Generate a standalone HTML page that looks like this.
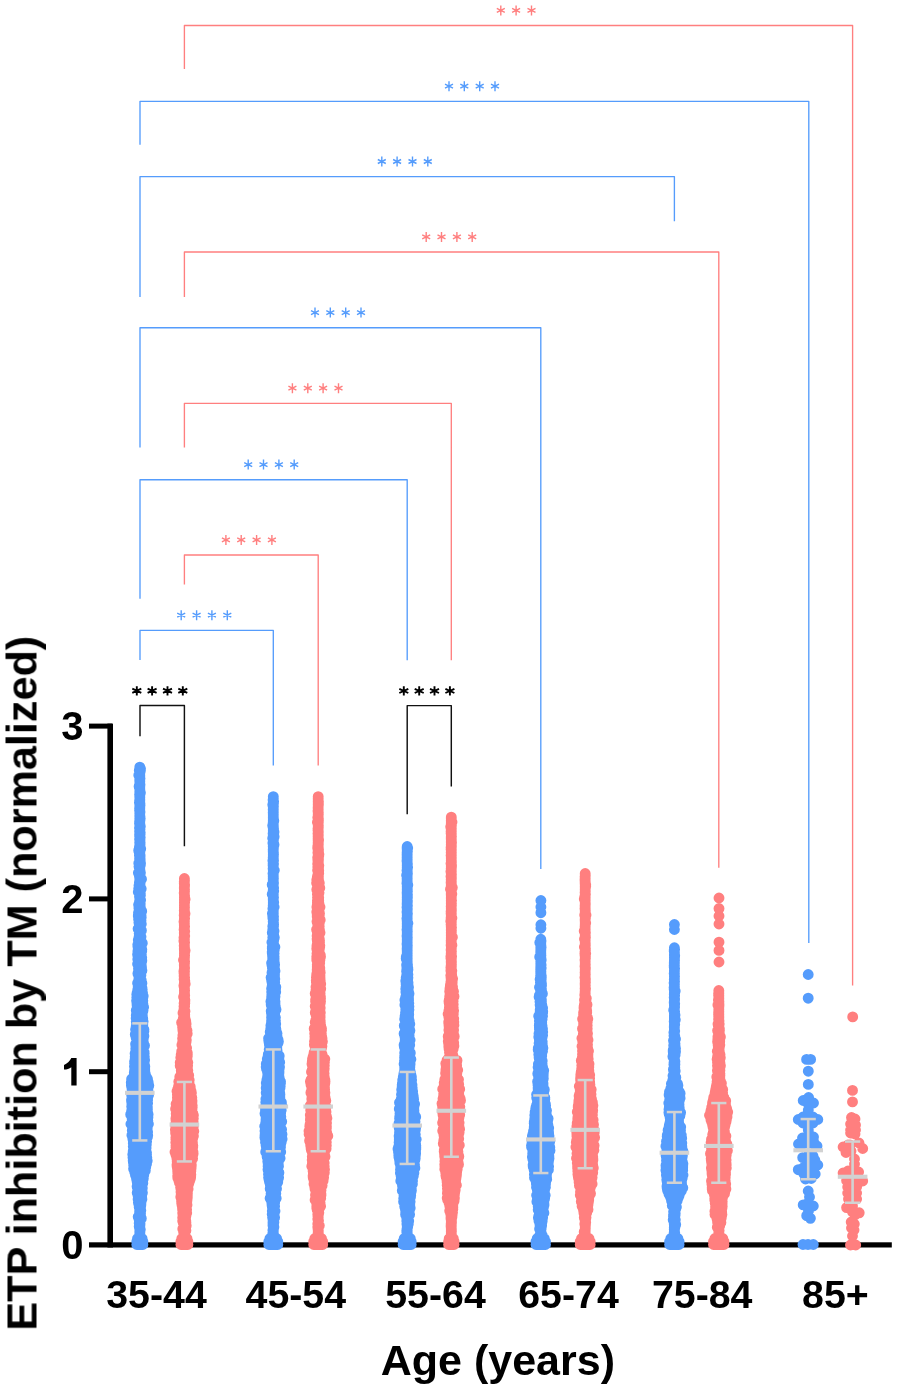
<!DOCTYPE html>
<html><head><meta charset="utf-8"><title>ETP inhibition by TM</title>
<style>html,body{margin:0;padding:0;background:#fff;overflow:hidden;width:897px;height:1389px;}svg{display:block;}</style></head>
<body><svg width="897" height="1389" viewBox="0 0 897 1389" font-family="'Liberation Sans', sans-serif" font-weight="bold">
<rect width="897" height="1389" fill="#fff"/>
<path d="M184.4 69.1V25.5H852.6V985.5" fill="none" stroke="#FF7F7F" stroke-width="1.35" stroke-linejoin="round"/>
<path d="M140 144.7V101.3H808.8V943" fill="none" stroke="#559CFC" stroke-width="1.35" stroke-linejoin="round"/>
<path d="M140 297V176.6H674.4V221.3" fill="none" stroke="#559CFC" stroke-width="1.35" stroke-linejoin="round"/>
<path d="M184.4 297V252H718.8V867.7" fill="none" stroke="#FF7F7F" stroke-width="1.35" stroke-linejoin="round"/>
<path d="M140 447.5V327.7H540.8V869" fill="none" stroke="#559CFC" stroke-width="1.35" stroke-linejoin="round"/>
<path d="M184.4 447.5V403.3H451.3V660.3" fill="none" stroke="#FF7F7F" stroke-width="1.35" stroke-linejoin="round"/>
<path d="M140 598.8V479.7H407.2V660.3" fill="none" stroke="#559CFC" stroke-width="1.35" stroke-linejoin="round"/>
<path d="M184.4 584.5V555H318.2V765.4" fill="none" stroke="#FF7F7F" stroke-width="1.35" stroke-linejoin="round"/>
<path d="M140 660V630.3H273.3V765.4" fill="none" stroke="#559CFC" stroke-width="1.35" stroke-linejoin="round"/>
<path d="M140 736.3V705.5H184.4V846.2" fill="none" stroke="#111" stroke-width="1.45" stroke-linejoin="round"/>
<path d="M407.2 814.2V705.6H451.3V786.4" fill="none" stroke="#111" stroke-width="1.45" stroke-linejoin="round"/>
<path d="M500.8 5.4v10M496.8 8.4l8 4M496.8 12.4l8 -4M516.1 5.4v10M512.1 8.4l8 4M512.1 12.4l8 -4M531.5 5.4v10M527.5 8.4l8 4M527.5 12.4l8 -4M426.2 231.9v10M422.2 234.9l8 4M422.2 238.9l8 -4M441.5 231.9v10M437.5 234.9l8 4M437.5 238.9l8 -4M456.9 231.9v10M452.9 234.9l8 4M452.9 238.9l8 -4M472.2 231.9v10M468.2 234.9l8 4M468.2 238.9l8 -4M292.4 383.2v10M288.4 386.2l8 4M288.4 390.2l8 -4M307.8 383.2v10M303.8 386.2l8 4M303.8 390.2l8 -4M323.1 383.2v10M319.1 386.2l8 4M319.1 390.2l8 -4M338.5 383.2v10M334.5 386.2l8 4M334.5 390.2l8 -4M225.9 534.9v10M221.9 537.9l8 4M221.9 541.9l8 -4M241.2 534.9v10M237.2 537.9l8 4M237.2 541.9l8 -4M256.6 534.9v10M252.6 537.9l8 4M252.6 541.9l8 -4M271.9 534.9v10M267.9 537.9l8 4M267.9 541.9l8 -4" fill="none" stroke="#FF7F7F" stroke-width="1.4"/>
<path d="M449 81.2v10M445 84.2l8 4M445 88.2l8 -4M464.3 81.2v10M460.3 84.2l8 4M460.3 88.2l8 -4M479.7 81.2v10M475.7 84.2l8 4M475.7 88.2l8 -4M495 81.2v10M491 84.2l8 4M491 88.2l8 -4M381.8 156.5v10M377.8 159.5l8 4M377.8 163.5l8 -4M397.1 156.5v10M393.1 159.5l8 4M393.1 163.5l8 -4M412.5 156.5v10M408.5 159.5l8 4M408.5 163.5l8 -4M427.8 156.5v10M423.8 159.5l8 4M423.8 163.5l8 -4M315 307.6v10M311 310.6l8 4M311 314.6l8 -4M330.3 307.6v10M326.3 310.6l8 4M326.3 314.6l8 -4M345.7 307.6v10M341.7 310.6l8 4M341.7 314.6l8 -4M361 307.6v10M357 310.6l8 4M357 314.6l8 -4M248.2 459.6v10M244.2 462.6l8 4M244.2 466.6l8 -4M263.5 459.6v10M259.5 462.6l8 4M259.5 466.6l8 -4M278.9 459.6v10M274.9 462.6l8 4M274.9 466.6l8 -4M294.2 459.6v10M290.2 462.6l8 4M290.2 466.6l8 -4M181.2 610.2v10M177.2 613.2l8 4M177.2 617.2l8 -4M196.6 610.2v10M192.6 613.2l8 4M192.6 617.2l8 -4M211.9 610.2v10M207.9 613.2l8 4M207.9 617.2l8 -4M227.3 610.2v10M223.3 613.2l8 4M223.3 617.2l8 -4" fill="none" stroke="#559CFC" stroke-width="1.4"/>
<path d="M136.8 686.2v9.2M132.3 688.7l9 4.2M132.3 692.9l9 -4.2M152.1 686.2v9.2M147.6 688.7l9 4.2M147.6 692.9l9 -4.2M167.5 686.2v9.2M163 688.7l9 4.2M163 692.9l9 -4.2M182.8 686.2v9.2M178.3 688.7l9 4.2M178.3 692.9l9 -4.2M403.8 686.3v9.2M399.3 688.8l9 4.2M399.3 693l9 -4.2M419.2 686.3v9.2M414.7 688.8l9 4.2M414.7 693l9 -4.2M434.5 686.3v9.2M430 688.8l9 4.2M430 693l9 -4.2M449.9 686.3v9.2M445.4 688.8l9 4.2M445.4 693l9 -4.2" fill="none" stroke="#000" stroke-width="1.9"/>
<g fill="#000">
<rect x="107.4" y="723.6" width="5.6" height="523.9"/>
<rect x="89" y="723.6" width="23" height="5"/>
<rect x="89" y="896.4" width="23" height="5"/>
<rect x="89" y="1069.2" width="23" height="5"/>
<rect x="89" y="1242.3" width="802.8" height="5.2"/>
</g>
<path d="M139.8 767.2h0M139.8 768.8h0.7M139.3 770.4h1.1M139.6 772h0.2M139.7 773.6h0.1M138.8 775.2h1M139.6 776.8h0.2M139.8 778.4h0.2M139.7 780h0.1M139.8 781.6h0M139.8 783.2h0M139.8 784.8h0.2M139.1 786.4h0.7M139.8 788h0M139.8 789.6h0M139.8 791.2h0.2M139.8 792.8h0.6M139.6 794.4h0.2M139.7 796h0.1M139.8 797.6h0M139.8 799.2h0M139.6 800.8h0.2M139.4 802.4h0.4M139.8 804h0.2M139.8 805.6h0.2M139.7 807.2h0.1M139.6 808.8h0.2M139.6 810.4h0.2M139.8 812h0.2M139.8 813.6h0M139.8 815.2h0M139.8 816.8h0.2M139.8 818.4h0.4M139.8 820h0.2M139.6 821.6h0.2M139.5 823.2h0.3M139.7 824.8h0.1M139.8 826.4h0.5M139.5 828h0.3M139.8 829.6h0.2M139.6 831.2h0.2M139.7 832.8h0.5M139.6 834.4h0.5M139.6 836h0.2M139.8 837.6h0.4M139.6 839.2h0.4M139.8 840.8h0.2M139.7 842.4h0.4M139.8 844h0.3M139.8 845.6h0.2M139.4 847.2h0.8M139.6 848.8h1.1M138.7 850.4h1.4M139.6 852h0.3M139.4 853.6h0.4M139.4 855.2h0.7M139.6 856.8h0.5M139.6 858.4h0.5M139.6 860h0.6M139.7 861.6h0.1M138.8 863.2h1.7M139.6 864.8h0.8M139 866.4h0.8M139.5 868h0.3M139.7 869.6h0.1M139.8 871.2h0.3M138.4 872.8h2M139.8 874.4h0.3M139.4 876h0.7M139.6 877.6h0.3M139.8 879.2h1.7M139.7 880.8h0.1M139.4 882.4h0.8M139.6 884h0.4M139 885.6h1.1M139.3 887.2h0.5M138.7 888.8h2.5M139.7 890.4h0.8M138.3 892h1.9M139.5 893.6h0.8M139.6 895.2h0.8M139.5 896.8h0.3M139.8 898.4h0.2M139.8 900h0.8M139.5 901.6h0.6M139.5 903.2h0.7M138.6 904.8h1.6M139.1 906.4h1.1M138.9 908h1.6M139.2 909.6h1.3M139 911.2h2.7M138.5 912.8h2.7M138.4 914.4h2.4M138.3 916h2.8M139.2 917.6h2M138.6 919.2h1.8M138.9 920.8h2.1M138.9 922.4h1.9M139.3 924h2M139.4 925.6h1.1M139 927.2h1.4M138.1 928.8h2.3M139.1 930.4h2.3M139.7 932h0.8M139.2 933.6h1M139.4 935.2h1M139.1 936.8h1.9M138.8 938.4h1.8M138.3 940h2.6M138.5 941.6h2.4M138.5 943.2h3.8M137.8 944.8h3.1M137.9 946.4h3.4M138.5 948h2.7M138.5 949.6h3.3M137.9 951.2h3.8M138.4 952.8h2.9M137.6 954.4h3.7M138.5 956h2.7M138.6 957.6h3.1M137.8 959.2h3.9M138.3 960.8h3.5M138.3 962.4h2.9M137.6 964h3.6M138.5 965.6h2.8M138.6 967.2h2.9M138.5 968.8h2.9M138.6 970.4h3.3M138.7 972h1.8M137.9 973.6h2.6M139.4 975.2h1.5M138.9 976.8h1.7M139.2 978.4h1.3M138.7 980h2.5M138.6 981.6h2.1M137.6 983.2h4.3M138.2 984.8h3.4M138.2 986.4h3.2M138.3 988h3.7M137.8 989.6h4.4M137.8 991.2h4M137.1 992.8h5.4M136.8 994.4h5.9M137.1 996h6.1M136.8 997.6h6.1M137.4 999.2h5.2M136.6 1000.8h6.2M136.9 1002.4h5.4M137 1004h5.9M137.1 1005.6h5.8M137.2 1007.2h6.4M137 1008.8h5.7M136.3 1010.4h6.7M136.8 1012h5.5M136.8 1013.6h5.5M136.3 1015.2h6M137 1016.8h5.2M136.2 1018.4h6.5M136.6 1020h6.1M136.3 1021.6h6.8M136.9 1023.2h5.9M136.5 1024.8h6.3M136.2 1026.4h6.6M136.5 1028h6.5M135.6 1029.6h8.3M136 1031.2h7.9M136.5 1032.8h7M135.3 1034.4h7.8M136.7 1036h7.2M136.1 1037.6h7.4M136.7 1039.2h6.5M137 1040.8h5.9M136.8 1042.4h6.6M135.6 1044h7.8M135.8 1045.6h8.7M136 1047.2h7.2M135.8 1048.8h7.5M136.2 1050.4h6.8M135.6 1052h8.5M135.1 1053.6h9.1M135.8 1055.2h8M135.2 1056.8h9.1M135.2 1058.4h9.1M135.5 1060h9.1M134.6 1061.6h9.6M134.6 1063.2h9.6M134.8 1064.8h9.5M134.5 1066.4h10.3M135.3 1068h9.4M134.7 1069.6h10M134.5 1071.2h10.3M134.3 1072.8h10.6M134.5 1074.4h10.9M134 1076h11.7M133 1077.6h13.7M131.6 1079.2h15.9M132.2 1080.8h15.3M131.3 1082.4h16.9M131.4 1084h16.2M131.4 1085.6h17.4M132 1087.2h15.5M132 1088.8h15.9M132.2 1090.4h15.7M132 1092h16.1M132.2 1093.6h16.4M131.7 1095.2h16.8M131.9 1096.8h15.7M132 1098.4h15.6M131.5 1100h16.1M131.6 1101.6h15.7M131.9 1103.2h15.7M131.9 1104.8h15.4M131.7 1106.4h15.6M132 1108h15.4M131.9 1109.6h15.5M131.6 1111.2h15.8M131.5 1112.8h16.2M130.7 1114.4h17.4M131.6 1116h16.3M132 1117.6h15.9M132.2 1119.2h15.4M132.4 1120.8h15.4M132.5 1122.4h15.3M130.9 1124h17.5M132.1 1125.6h15.3M132.4 1127.2h14.9M132.9 1128.8h14.3M132.3 1130.4h14.7M132.7 1132h14.9M133.2 1133.6h13.6M131.9 1135.2h15.8M133.1 1136.8h14.4M132.8 1138.4h13.9M133.1 1140h12.9M133.5 1141.6h13.1M133.3 1143.2h12.3M133.5 1144.8h12.8M133.3 1146.4h12.6M133.8 1148h12.3M133.8 1149.6h12M133.2 1151.2h12.8M133.6 1152.8h12.9M132.8 1154.4h13.7M133.5 1156h13M133 1157.6h13.8M133.5 1159.2h12.7M133.2 1160.8h14M133.4 1162.4h12.7M133.8 1164h12.7M133.7 1165.6h12.1M134.3 1167.2h11.4M133.6 1168.8h11.5M134.6 1170.4h10.7M134.7 1172h9.8M135.6 1173.6h8.3M135.5 1175.2h8.2M136.7 1176.8h6.7M136.5 1178.4h6.8M137.1 1180h5.1M137.1 1181.6h5M137.6 1183.2h5.2M137.6 1184.8h4.7M137.1 1186.4h4.9M138 1188h4.3M138.1 1189.6h4M137.6 1191.2h3.9M137.2 1192.8h5.2M137.9 1194.4h3.8M138.1 1196h3.5M138.5 1197.6h3.2M138.1 1199.2h3.8M138.4 1200.8h2.9M138.4 1202.4h2.2M138.8 1204h2.1M139.1 1205.6h1.7M139.2 1207.2h1.3M139.6 1208.8h0.3M139.7 1210.4h1.1M139.6 1212h0.2M139.6 1213.6h0.9M139.8 1215.2h0.7M138.2 1216.8h1.9M139.8 1218.4h1.5M139.2 1220h0.6M139.7 1221.6h0.3M139.2 1223.2h0.8M139.7 1224.8h0.3M139.2 1226.4h0.6M139.8 1228h0M139.8 1229.6h0.5M139.8 1231.2h0.1M139.8 1232.8h0.1M139.7 1234.4h0.1M139.8 1236h0M137.5 1238.5h4.6M136.8 1241.5h6.1M136.8 1244.5h6.1" fill="none" stroke="#559CFC" stroke-width="10.9" stroke-linecap="round"/>
<path d="M184.4 878.5h0M184.4 880.1h0.1M184.3 881.7h0.1M184.3 883.3h0.1M184.4 884.9h0.2M184.4 886.5h0.1M184.3 888.1h0.1M184.4 889.7h0.1M184.4 891.3h0.1M184.2 892.9h0.2M184.4 894.5h0M184.4 896.1h0.2M184.4 897.7h0.1M184.4 899.3h0.7M184.4 900.9h0.1M184.4 902.5h0.2M184.4 904.1h0M184.4 905.7h0M184.4 907.3h0.1M184.4 908.9h0M184.3 910.5h0.1M184.4 912.1h0.1M184.4 913.7h0.6M184.2 915.3h0.2M184.4 916.9h0M184.4 918.5h0.2M184.3 920.1h0.1M184 921.7h0.4M184.4 923.3h0M184.3 924.9h0.1M184.4 926.5h0.2M184.3 928.1h0.1M184.1 929.7h0.3M184.4 931.3h0.3M184.3 932.9h0.1M184.4 934.5h0M184.4 936.1h0.3M184 937.7h0.4M184.1 939.3h0.3M183.9 940.9h0.5M184.4 942.5h0.2M184.4 944.1h0M184.2 945.7h0.2M184.4 947.3h0.1M184.3 948.9h0.1M184.4 950.5h0.7M184.4 952.1h0.1M184.4 953.7h0.1M184.4 955.3h0.2M184.4 956.9h0.1M184.1 958.5h0.3M183.5 960.1h0.9M184.4 961.7h0.2M184.4 963.3h0.1M184.3 964.9h0.1M184.4 966.5h0M184.4 968.1h0.2M184.2 969.7h0.2M183.9 971.3h0.6M184 972.9h0.4M184.2 974.5h0.2M184.1 976.1h0.3M184.3 977.7h0.3M184.1 979.3h0.3M184.4 980.9h0.4M184.4 982.5h0.5M184.3 984.1h0.9M183.9 985.7h0.5M184.2 987.3h0.2M184.4 988.9h0.1M184.4 990.5h0.2M184.4 992.1h0.1M184.4 993.7h0.1M184.4 995.3h0.3M183.6 996.9h0.9M184.4 998.5h0.2M184.4 1000.1h0.5M184.4 1001.7h0.4M184.1 1003.3h0.7M184.4 1004.9h0.2M184 1006.5h0.6M184.2 1008.1h0.2M183.9 1009.7h0.5M184.4 1011.3h0.6M183 1012.9h1.6M184 1014.5h0.7M184.2 1016.1h0.5M183.5 1017.7h1.3M183.2 1019.3h1.9M182.8 1020.9h2.9M181.6 1022.5h4.3M182.3 1024.1h3.8M182.6 1025.7h3.2M182.6 1027.3h3.5M182.8 1028.9h2.8M182.9 1030.5h4.1M183.2 1032.1h2.7M183.3 1033.7h3.9M182.9 1035.3h2.8M183 1036.9h3.1M182.6 1038.5h2.8M183.3 1040.1h3M182.7 1041.7h3.4M183.5 1043.3h2.1M181.9 1044.9h3.8M182.6 1046.5h3.2M183 1048.1h3.6M182.8 1049.7h3.5M181.7 1051.3h4.5M181.8 1052.9h5.5M181.2 1054.5h6.1M181.9 1056.1h5.4M180.8 1057.7h6M181.8 1059.3h5.2M181.8 1060.9h5.3M180.2 1062.5h7.6M181 1064.1h6.4M180.2 1065.7h7.4M181.5 1067.3h5.9M181.7 1068.9h5.4M181.3 1070.5h6.5M181.4 1072.1h5.9M181.5 1073.7h6M180.9 1075.3h7.8M179.8 1076.9h7.8M180.7 1078.5h7.4M179.6 1080.1h9.6M178.8 1081.7h10M179.4 1083.3h9.7M179 1084.9h10.4M178.5 1086.5h11.7M178.5 1088.1h11.8M177.6 1089.7h13M177 1091.3h14.1M177.8 1092.9h13.6M177.4 1094.5h13.6M177.5 1096.1h13.6M177.4 1097.7h14.4M177.6 1099.3h14M177.3 1100.9h14.7M177.4 1102.5h14.5M176.1 1104.1h15.8M176.7 1105.7h15.5M176.7 1107.3h15.5M175.6 1108.9h16.4M176.7 1110.5h14.9M176.9 1112.1h15M176.2 1113.7h16.7M176.6 1115.3h16.8M176.2 1116.9h16M175.9 1118.5h17.4M176 1120.1h16.4M176.3 1121.7h16.8M175.9 1123.3h16.7M175.5 1124.9h17.3M175.9 1126.5h17.4M176 1128.1h16.7M175.4 1129.7h17.9M175.6 1131.3h18.2M175.6 1132.9h17.2M176.2 1134.5h16.2M176.1 1136.1h17.3M175.9 1137.7h16.9M175.9 1139.3h16.3M176.4 1140.9h15.9M175.8 1142.5h16.6M176.2 1144.1h16.3M176 1145.7h16.8M176 1147.3h16.7M176.3 1148.9h16.1M176.1 1150.5h16.5M175 1152.1h18M175.7 1153.7h17.4M176.1 1155.3h16.6M176.8 1156.9h15.5M176.9 1158.5h15.7M177.6 1160.1h13.8M177.2 1161.7h14.1M178.1 1163.3h12.9M177 1164.9h14.3M177.1 1166.5h14.1M178 1168.1h13.1M177.6 1169.7h13.3M177.7 1171.3h13.1M177.8 1172.9h12.6M178.5 1174.5h12.3M177.7 1176.1h13M177.8 1177.7h12.8M178.4 1179.3h11.8M179 1180.9h10.6M179.4 1182.5h9.6M180.5 1184.1h8.1M181 1185.7h7M180.6 1187.3h6.9M180.9 1188.9h7.2M181.4 1190.5h6.2M181 1192.1h6.4M181.6 1193.7h5.8M181.1 1195.3h6.2M180.8 1196.9h6.5M181.3 1198.5h5.9M181.6 1200.1h5.4M181.6 1201.7h5.2M181.7 1203.3h4.7M182 1204.9h5M182.4 1206.5h3.8M182.5 1208.1h3.5M182.6 1209.7h4M183.2 1211.3h3.1M182.7 1212.9h4M182.9 1214.5h2.7M183 1216.1h2.9M182.7 1217.7h2.9M183.5 1219.3h1.7M182.7 1220.9h3.1M183.2 1222.5h2.7M183.8 1224.1h1.3M183.9 1225.7h2.3M184 1227.3h0.9M182.8 1228.9h2.4M184.3 1230.5h1.6M183.6 1232.1h0.8M184 1233.7h0.5M184.3 1235.3h0.7M181.8 1238.5h5.2M180.9 1241.5h7M180.9 1244.5h7" fill="none" stroke="#FF7F7F" stroke-width="10.9" stroke-linecap="round"/>
<path d="M273.3 796.7h0M273.3 798.3h0M273.1 799.9h0.2M273.3 801.5h0.3M273.3 803.1h0.2M272.8 804.7h0.5M273.3 806.3h0.1M273.3 807.9h0M273.2 809.5h0.1M273.3 811.1h0M273.2 812.7h0.1M273.3 814.3h0M273.3 815.9h0M273.3 817.5h0M273.3 819.1h0M273.3 820.7h0.5M273.2 822.3h0.1M273.1 823.9h0.2M272.7 825.5h0.6M273.3 827.1h0.1M273.3 828.7h0.2M273.3 830.3h0.3M273.3 831.9h0.7M273.1 833.5h0.2M273.2 835.1h0.1M273.3 836.7h0.8M272.7 838.3h0.6M273.3 839.9h0.1M273.3 841.5h0M272.9 843.1h0.4M273.3 844.7h0.7M273.2 846.3h0.2M273.3 847.9h0.1M273.2 849.5h0.1M273.2 851.1h0.1M273.3 852.7h0.1M273.3 854.3h0.2M273.3 855.9h0.1M273.2 857.5h0.1M273.3 859.1h0.1M272.9 860.7h0.6M273.3 862.3h0M273.1 863.9h0.4M273.1 865.5h0.2M273.3 867.1h0M273.1 868.7h0.2M273.3 870.3h1M273.3 871.9h0.2M273 873.5h0.3M273.2 875.1h0.1M273.2 876.7h0.1M273.2 878.3h0.2M273.2 879.9h0.1M273.3 881.5h0M273.3 883.1h0.2M272.2 884.7h1.1M273.3 886.3h0M273.3 887.9h0.3M273.3 889.5h0M273.3 891.1h0.4M272.8 892.7h0.5M272.2 894.3h1.1M273.3 895.9h0M273.3 897.5h0.2M273.2 899.1h0.1M273.3 900.7h0M273.3 902.3h0.4M273.3 903.9h0.1M273.2 905.5h0.1M273.3 907.1h0.8M272.9 908.7h0.4M273.3 910.3h0M273.1 911.9h0.2M272.4 913.5h0.9M273.3 915.1h0M272.8 916.7h0.7M272.9 918.3h0.5M273.3 919.9h0.2M273.2 921.5h0.1M273.3 923.1h0.2M273.3 924.7h0.3M272.8 926.3h0.7M273 927.9h0.3M272.8 929.5h0.8M273.3 931.1h0.7M272.3 932.7h1.2M273.3 934.3h0.3M273.1 935.9h0.2M272.8 937.5h1.5M272.9 939.1h0.7M273.3 940.7h0.3M271.9 942.3h1.4M272.6 943.9h1M273 945.5h0.9M272.3 947.1h2.6M272.3 948.7h1.7M272.7 950.3h1.5M272.2 951.9h1.6M272.3 953.5h1.8M272.5 955.1h1.2M272.6 956.7h1.5M272.7 958.3h1.4M272.8 959.9h1.3M272.3 961.5h1.6M271.6 963.1h2.8M271.9 964.7h2.7M272.7 966.3h1.7M272.4 967.9h1.8M272.7 969.5h2M272.5 971.1h2.5M272 972.7h2.2M272.1 974.3h2.4M272 975.9h2.5M271.1 977.5h3.2M272.4 979.1h2.4M271.7 980.7h2.6M272 982.3h2.7M272.5 983.9h1.6M272.2 985.5h2.4M272.1 987.1h3.7M271.6 988.7h4M272.1 990.3h3.1M271.7 991.9h4M271.9 993.5h2.8M271.8 995.1h3.1M271.7 996.7h3.3M271.6 998.3h3.1M271.8 999.9h2.6M270.9 1001.5h4.1M271.3 1003.1h3.7M271.2 1004.7h3.2M271.7 1006.3h3.6M272 1007.9h3.1M272 1009.5h4M271.2 1011.1h3.8M271.4 1012.7h3.4M272 1014.3h2.6M271.7 1015.9h2.9M271.6 1017.5h3.8M271.7 1019.1h3.2M271.6 1020.7h3.8M271.5 1022.3h3.6M271.5 1023.9h4.2M270.9 1025.5h4.4M271 1027.1h4.3M270.8 1028.7h5M271.1 1030.3h4.6M270.2 1031.9h6.2M270.5 1033.5h6.5M270.4 1035.1h5.9M270.1 1036.7h7M268.6 1038.3h8.7M268.7 1039.9h9.4M268.9 1041.5h9.5M269.2 1043.1h8.8M269.4 1044.7h7.6M269.9 1046.3h6.9M270.1 1047.9h6.7M269.2 1049.5h7.7M270.2 1051.1h6.9M269.7 1052.7h7.3M268.3 1054.3h9.3M268.5 1055.9h10.7M267.8 1057.5h11.1M267.3 1059.1h11.6M267.6 1060.7h11.4M267.5 1062.3h12.2M266.3 1063.9h12.8M267.4 1065.5h11.7M266.2 1067.1h13.3M266.5 1068.7h12.7M267.8 1070.3h10.7M267.5 1071.9h11.5M268.1 1073.5h10.8M267.8 1075.1h10.9M267.6 1076.7h11.4M267.6 1078.3h11.5M266.9 1079.9h12.8M266.7 1081.5h13.8M266.3 1083.1h14.2M266.8 1084.7h13.2M266.5 1086.3h13.7M266.2 1087.9h13.8M267.5 1089.5h11.6M266.9 1091.1h12.5M266.2 1092.7h13.5M267 1094.3h12.9M266.7 1095.9h13.1M266.9 1097.5h12.9M265.9 1099.1h13.7M266.2 1100.7h13.9M265.8 1102.3h15.6M266.2 1103.9h14.8M265.8 1105.5h16M265.4 1107.1h15.4M265.5 1108.7h15.3M265.5 1110.3h15.7M266.1 1111.9h14.4M265 1113.5h15.6M265.8 1115.1h14.2M266.1 1116.7h14.7M266.1 1118.3h14.4M266 1119.9h14.7M266.1 1121.5h15.6M265.7 1123.1h14.6M266.3 1124.7h14M264.7 1126.3h15.7M265.4 1127.9h15.1M265.5 1129.5h16.1M265 1131.1h16.2M265.6 1132.7h15.7M265.1 1134.3h16.9M265 1135.9h16.2M264.9 1137.5h16.9M265.6 1139.1h16.5M265.6 1140.7h15.5M265.5 1142.3h15.7M266.4 1143.9h14.3M266.1 1145.5h14.2M266.5 1147.1h14M266.5 1148.7h13.5M267.1 1150.3h12.9M265.7 1151.9h15M266.7 1153.5h13.1M267.1 1155.1h12.1M267.1 1156.7h12.4M268 1158.3h12.1M267.9 1159.9h10.7M267.8 1161.5h10.4M268.5 1163.1h9.7M268.2 1164.7h10.1M268.1 1166.3h10.4M268.3 1167.9h9.5M268 1169.5h9.6M269.2 1171.1h8.8M268.7 1172.7h10.2M268.5 1174.3h9.6M269.1 1175.9h8.8M268.6 1177.5h10M268.9 1179.1h8.3M269.3 1180.7h8.5M269.6 1182.3h8.1M270.9 1183.9h5.1M270.4 1185.5h4.8M271.5 1187.1h3.8M270.2 1188.7h6.3M271 1190.3h4.2M271.4 1191.9h3.9M271.1 1193.5h4.7M271.2 1195.1h4.3M270.8 1196.7h4.4M270.1 1198.3h6.1M271.8 1199.9h3M271.6 1201.5h3M272.1 1203.1h2.5M272 1204.7h2.2M272.2 1206.3h2.4M272.5 1207.9h1.4M272.9 1209.5h1.3M272.3 1211.1h2.7M272.7 1212.7h1.4M272.2 1214.3h1.9M273.1 1215.9h0.6M272.6 1217.5h2M273.3 1219.1h0.4M273.1 1220.7h0.2M273 1222.3h0.9M273 1223.9h0.6M273 1225.5h0.5M273.3 1227.1h0.6M273.3 1228.7h0.2M272.9 1230.3h0.4M273.1 1231.9h0.2M272.8 1233.5h0.6M272.9 1235.1h0.4M269.9 1238.5h6.7M268.8 1241.5h9M268.8 1244.5h9" fill="none" stroke="#559CFC" stroke-width="10.9" stroke-linecap="round"/>
<path d="M318.2 796.7h0M318.2 798.3h0M318.2 799.9h0M318.2 801.5h0.2M318.2 803.1h0.2M318.2 804.7h0.2M318.2 806.3h0M318.1 807.9h0.1M318.2 809.5h0M318 811.1h0.2M318.2 812.7h0.1M318.2 814.3h0.1M318.2 815.9h0M317.8 817.5h0.4M318.2 819.1h0.2M318.2 820.7h0.2M317.4 822.3h0.9M318.1 823.9h0.1M318.2 825.5h0.1M318.2 827.1h0.1M318 828.7h0.2M318 830.3h0.2M318.2 831.9h0.1M318 833.5h0.2M318.1 835.1h0.2M318.1 836.7h0.1M318.1 838.3h0.2M318.1 839.9h0.5M318.2 841.5h0.2M318.1 843.1h0.2M318.2 844.7h0.1M317.8 846.3h0.4M317.7 847.9h0.6M318 849.5h0.5M318.1 851.1h0.4M317.9 852.7h0.6M318.2 854.3h0.7M318.2 855.9h0.5M317.7 857.5h0.5M317.8 859.1h0.7M317.9 860.7h0.5M318 862.3h0.3M317.7 863.9h0.6M318.2 865.5h0.6M317.8 867.1h0.8M318 868.7h0.5M317.6 870.3h1.1M318.1 871.9h0.5M318.1 873.5h0.6M318.1 875.1h0.1M317.4 876.7h1M318.2 878.3h0.2M316.8 879.9h1.6M316.9 881.5h2M316.6 883.1h2.7M317.9 884.7h0.8M317.5 886.3h1.5M317.7 887.9h2.1M316.8 889.5h1.5M317.5 891.1h1.1M317.6 892.7h1.4M317.4 894.3h1.2M318 895.9h0.4M317.5 897.5h1.2M317.9 899.1h0.7M317.4 900.7h1.3M317.4 902.3h1.2M317.4 903.9h1.6M317.2 905.5h1.8M316.9 907.1h3.1M317.4 908.7h1.3M317.4 910.3h1.3M316.8 911.9h2.4M317.5 913.5h2M317.2 915.1h2.1M317.2 916.7h2M317.8 918.3h1.1M317.7 919.9h2.5M317 921.5h1.9M317.5 923.1h1.8M317.8 924.7h1.2M317.8 926.3h1.4M317.8 927.9h1.3M316.6 929.5h2.8M317.2 931.1h1.6M317.4 932.7h2.6M317.6 934.3h1.6M317.1 935.9h1.6M317.7 937.5h1.3M317.1 939.1h2.2M317.3 940.7h2.2M317.6 942.3h1.9M317.3 943.9h2.1M317 945.5h2.8M316.9 947.1h2.8M316.8 948.7h2.6M317.1 950.3h1.9M317.6 951.9h1.3M317 953.5h2.6M317.1 955.1h3.2M316.8 956.7h3.7M316.8 958.3h2.6M316.8 959.9h3.1M317.3 961.5h1.6M317.5 963.1h2.2M317.3 964.7h1.8M317.3 966.3h2.2M317.3 967.9h2.5M317.2 969.5h2.1M317.2 971.1h2.8M317.2 972.7h3M316.7 974.3h2.9M316.6 975.9h3.4M316.4 977.5h3.6M317.1 979.1h3M316.3 980.7h3.9M316.4 982.3h3.2M316.7 983.9h4M316.4 985.5h3.8M316 987.1h3.7M316.5 988.7h4.2M316 990.3h4.2M316 991.9h4M315.2 993.5h4.9M316.3 995.1h3.4M316.2 996.7h4.2M316 998.3h4.5M315.6 999.9h4.8M315.6 1001.5h4.9M316.4 1003.1h3.9M316.1 1004.7h3.8M315.2 1006.3h4.7M316.1 1007.9h4.1M316.1 1009.5h3.7M315.7 1011.1h4.1M315.3 1012.7h5M316 1014.3h3.8M316.3 1015.9h3.8M316.6 1017.5h3.5M316.5 1019.1h3.5M315.7 1020.7h4.5M315.2 1022.3h5.1M315.6 1023.9h4.7M316 1025.5h4.7M315.4 1027.1h5.1M314.2 1028.7h7.3M315 1030.3h6.5M315.2 1031.9h5.8M314.7 1033.5h6.6M315.1 1035.1h6.2M314.9 1036.7h6.8M315 1038.3h7M314.9 1039.9h6.6M314.5 1041.5h7.9M315.1 1043.1h6.3M314.4 1044.7h6.9M315.1 1046.3h6.8M315.3 1047.9h6.2M315.9 1049.5h5M315.7 1051.1h5.1M314.1 1052.7h7.3M314.6 1054.3h7.4M313.4 1055.9h9.1M312.9 1057.5h10.2M312.5 1059.1h12.3M312.4 1060.7h11.6M312.2 1062.3h12.2M312 1063.9h12.1M312.4 1065.5h11.9M312.7 1067.1h11M312.7 1068.7h11.5M312.1 1070.3h11.9M311.5 1071.9h12.3M312.4 1073.5h11.7M313.1 1075.1h10.1M312.7 1076.7h11.5M312.3 1078.3h12M311 1079.9h13.9M310.4 1081.5h14.6M311 1083.1h13.9M311 1084.7h13.6M311.6 1086.3h12.8M312.2 1087.9h12.3M311.7 1089.5h12.9M312.3 1091.1h11.9M310.9 1092.7h14M312.2 1094.3h12.5M312 1095.9h12.7M312 1097.5h13.1M311.8 1099.1h13M312.1 1100.7h13.7M311.9 1102.3h12.6M311.6 1103.9h13.4M310.3 1105.5h14.7M311 1107.1h15.1M310.9 1108.7h14.1M310.7 1110.3h14.7M311.1 1111.9h14.9M310.9 1113.5h14.6M310.3 1115.1h15.3M310.7 1116.7h15.8M310.5 1118.3h16.4M310.4 1119.9h15.8M310.7 1121.5h14.9M310.7 1123.1h15.8M310 1124.7h16.2M309.8 1126.3h16.6M310.4 1127.9h16M309.7 1129.5h16.3M309 1131.1h17.2M309.3 1132.7h17.4M309.1 1134.3h17.7M310.3 1135.9h17.5M310.3 1137.5h16.2M310.2 1139.1h15.9M309.6 1140.7h16.2M310.2 1142.3h16.1M310.6 1143.9h15M310.7 1145.5h15.6M311.1 1147.1h14M311.1 1148.7h15M311.4 1150.3h13.6M312.3 1151.9h12.3M312.5 1153.5h11.3M312.6 1155.1h11.3M312.3 1156.7h12.7M312.7 1158.3h11.4M312.2 1159.9h11.5M312.8 1161.5h10.7M312.4 1163.1h11.8M312.9 1164.7h11M311.8 1166.3h12.4M313.1 1167.9h10.8M313.2 1169.5h11.3M313.1 1171.1h10.4M313.4 1172.7h10.9M313.3 1174.3h9.8M313.1 1175.9h10.4M313.2 1177.5h10.4M313.7 1179.1h9.4M314.1 1180.7h9M314.4 1182.3h7.4M314 1183.9h7.2M314.7 1185.5h7.4M314.8 1187.1h5.7M315 1188.7h5.8M316 1190.3h5M315.9 1191.9h4.6M316.1 1193.5h4.8M315.5 1195.1h5.5M316.1 1196.7h4.5M316.4 1198.3h4.3M315.1 1199.9h4.9M316.4 1201.5h3.4M316.6 1203.1h3.5M316.9 1204.7h3.2M316.8 1206.3h3.8M316.8 1207.9h2.3M317.1 1209.5h1.8M317.8 1211.1h0.6M318.1 1212.7h0.7M317.8 1214.3h0.7M317.9 1215.9h0.3M318.1 1217.5h0.1M317.8 1219.1h0.4M318.2 1220.7h0.3M318.2 1222.3h0.1M317.8 1223.9h0.4M318.2 1225.5h1.1M317.8 1227.1h0.4M318 1228.7h0.2M318.2 1230.3h0.1M318.2 1231.9h0.1M318.1 1233.5h0.2M318.2 1235.1h0.2M314.8 1238.5h6.7M313.7 1241.5h9M313.7 1244.5h9" fill="none" stroke="#FF7F7F" stroke-width="10.9" stroke-linecap="round"/>
<path d="M407.2 846.5h0M407.1 848.1h0.6M407.2 849.7h0M407.2 851.3h0.2M407.1 852.9h0.1M407.1 854.5h0.1M407.1 856.1h0.1M407.1 857.7h0.1M407.1 859.3h0.1M407 860.9h0.2M407.2 862.5h0M407.2 864.1h0.2M407.2 865.7h0M407.2 867.3h0.4M407.2 868.9h0.1M407 870.5h0.2M407.2 872.1h0.1M407.2 873.7h0.2M406.6 875.3h0.6M407.2 876.9h0M407.1 878.5h0.1M407.1 880.1h0.1M407.1 881.7h0.1M406.9 883.3h0.3M407.2 884.9h0.6M407.2 886.5h0.2M407.2 888.1h0.1M407.2 889.7h0.1M407.2 891.3h0.2M407.1 892.9h0.1M407.2 894.5h0.2M407.2 896.1h0.2M407.2 897.7h0.2M407.2 899.3h0M407.2 900.9h0.2M407.2 902.5h0.1M407.1 904.1h0.1M407.2 905.7h0.2M407 907.3h0.2M407.2 908.9h0.1M407.2 910.5h0M407 912.1h0.2M407.2 913.7h0.2M407.2 915.3h0M407.2 916.9h0M406.9 918.5h0.3M407.1 920.1h0.1M407.2 921.7h0M407.2 923.3h0.7M407.2 924.9h0.1M407.2 926.5h0.1M407.2 928.1h0M407 929.7h0.2M407.2 931.3h0.1M407.2 932.9h0M407.2 934.5h0M407 936.1h0.2M407.2 937.7h0.1M407.2 939.3h0M407.2 940.9h0M407.2 942.5h0M407 944.1h0.2M407.2 945.7h0.1M407.2 947.3h0M407.1 948.9h0.1M407.2 950.5h0M407.2 952.1h0M407.2 953.7h0M407.1 955.3h0.1M406.3 956.9h0.9M406.2 958.5h1M406.8 960.1h0.4M407.2 961.7h0M407.2 963.3h0.1M406.6 964.9h0.9M406.8 966.5h0.4M406.9 968.1h0.9M406.8 969.7h1.1M406.6 971.3h0.9M407.1 972.9h0.5M406.8 974.5h1.1M407 976.1h0.6M406.2 977.7h1.7M406.7 979.3h1M405.8 980.9h1.8M406.4 982.5h1.6M406.1 984.1h1.9M406.3 985.7h1.8M406 987.3h2.5M405.8 988.9h2M406.7 990.5h1.6M405.9 992.1h2.4M406.7 993.7h2.3M406.4 995.3h1.4M405.8 996.9h2.7M405.4 998.5h3.1M404.9 1000.1h3.7M406.2 1001.7h2M406.4 1003.3h2.4M404.9 1004.9h3.2M405.8 1006.5h3.1M405.8 1008.1h2.4M405.8 1009.7h3.1M406.1 1011.3h2.1M405.5 1012.9h3.1M405.7 1014.5h3M405.1 1016.1h3.4M405.9 1017.7h2.6M404.7 1019.3h3.9M405.8 1020.9h3.4M405.5 1022.5h3.5M405.8 1024.1h4M404.3 1025.7h4.5M404.9 1027.3h3.9M405.4 1028.9h4M405.5 1030.5h4.4M405 1032.1h4.4M404.1 1033.7h4.9M404.8 1035.3h4.3M405 1036.9h4.1M405.3 1038.5h4.1M405.2 1040.1h4.9M405.1 1041.7h4.1M404.8 1043.3h4.3M404.1 1044.9h5.6M404.3 1046.5h4.7M405.3 1048.1h3.7M405.1 1049.7h3.7M405.6 1051.3h3.7M404.7 1052.9h5.6M405.4 1054.5h3.6M404.7 1056.1h5M404.6 1057.7h5.5M405.1 1059.3h5.8M404.5 1060.9h5.7M405 1062.5h5M404.1 1064.1h6M404.9 1065.7h5M404.7 1067.3h5.1M404.7 1068.9h5M404.6 1070.5h5.4M404.4 1072.1h5.9M403.9 1073.7h6.4M403.7 1075.3h7.3M403.3 1076.9h8.1M403.3 1078.5h7.9M402.7 1080.1h8.9M402.9 1081.7h8.5M402.4 1083.3h9.1M402.2 1084.9h9.8M402.2 1086.5h9.5M402.7 1088.1h9.5M401.7 1089.7h10.3M402.4 1091.3h10.2M402.1 1092.9h10.4M401.5 1094.5h11.4M401.8 1096.1h11.4M401.7 1097.7h11.7M401.2 1099.3h12.4M401.1 1100.9h12.4M399.5 1102.5h14.1M400.9 1104.1h13.7M401 1105.7h13.1M400.3 1107.3h13.4M399.3 1108.9h14.5M400 1110.5h13.9M400.1 1112.1h13.6M400 1113.7h14.2M400.3 1115.3h13.9M399.7 1116.9h16M399.6 1118.5h14.9M400.3 1120.1h14.5M399.6 1121.7h15.4M399 1123.3h15.7M399.4 1124.9h15.1M400.1 1126.5h14.9M399.2 1128.1h16.4M400.1 1129.7h15.3M399.6 1131.3h15M399.5 1132.9h15.1M399.5 1134.5h15.8M399.1 1136.1h15.8M399.3 1137.7h15.5M399.3 1139.3h16.9M399.3 1140.9h16.3M399.1 1142.5h16.1M399.3 1144.1h16.3M399 1145.7h16.8M398.5 1147.3h17.3M398 1148.9h17.8M398.7 1150.5h16.8M398.5 1152.1h17.1M398.8 1153.7h16.8M398.8 1155.3h16.6M398.9 1156.9h16.3M399.3 1158.5h15.9M400 1160.1h14.9M399.8 1161.7h14.5M399.9 1163.3h13.9M400.8 1164.9h13.7M400.7 1166.5h12.8M400.7 1168.1h14.2M400.5 1169.7h13M401.3 1171.3h12M400.4 1172.9h13.5M401.6 1174.5h11.3M401.1 1176.1h12.2M401.7 1177.7h10.9M401.5 1179.3h10.9M400.8 1180.9h11.7M402.5 1182.5h9.6M402.5 1184.1h9.9M402.5 1185.7h9M403 1187.3h8.2M403.3 1188.9h8M402.3 1190.5h9.1M403.8 1192.1h7.2M403.9 1193.7h6.5M404 1195.3h6.7M404 1196.9h6.5M403.7 1198.5h6.3M404.5 1200.1h5.3M403.6 1201.7h6.5M404.7 1203.3h4.6M405.1 1204.9h4.7M404.7 1206.5h4.9M405.4 1208.1h4.8M405.5 1209.7h4M405.8 1211.3h3.2M405.7 1212.9h2.9M405.6 1214.5h4M406.6 1216.1h1.7M406.7 1217.7h1.1M406.9 1219.3h1M406.8 1220.9h1.9M407.1 1222.5h0.6M406.9 1224.1h1.4M407.2 1225.7h0.2M407.2 1227.3h0.4M407 1228.9h0.2M406.8 1230.5h0.4M406.8 1232.1h0.4M407.2 1233.7h0.1M407.1 1235.3h0.1M404.2 1238.5h6.1M403.1 1241.5h8.1M403.1 1244.5h8.1" fill="none" stroke="#559CFC" stroke-width="10.9" stroke-linecap="round"/>
<path d="M451.3 817.2h0M451.3 818.8h0M451.3 820.4h0M451.3 822h0.7M451.3 823.6h0.1M451.3 825.2h0.1M450.7 826.8h0.6M451.2 828.4h0.1M451.2 830h0.1M451.1 831.6h0.2M451.1 833.2h0.2M451.3 834.8h0M451.3 836.4h0.1M451.2 838h0.1M451.3 839.6h0M451.3 841.2h0.1M451.3 842.8h0.2M451.3 844.4h0M451.3 846h0.1M451.1 847.6h0.2M451.1 849.2h0.2M451.3 850.8h0M451.2 852.4h0.1M451.3 854h0M451.1 855.6h0.2M451.3 857.2h0M451.3 858.8h0M451.3 860.4h0M451.3 862h0.1M451 863.6h0.3M451.3 865.2h0.2M451.3 866.8h0.2M451.2 868.4h0.1M451.3 870h0M450.9 871.6h0.4M451.3 873.2h0M451.3 874.8h0.1M451 876.4h0.3M451.3 878h0.1M451.2 879.6h0.1M451.2 881.2h0.1M451.1 882.8h0.2M451.3 884.4h0.1M451.2 886h0.1M451.3 887.6h1M450.5 889.2h0.8M451.1 890.8h0.2M451.3 892.4h0.2M451.2 894h0.6M451.3 895.6h0.2M451.3 897.2h0M451.3 898.8h0M451.3 900.4h0.2M451.3 902h0M451.3 903.6h0.1M451.3 905.2h0.1M451.2 906.8h0.1M451.3 908.4h0M451.3 910h0.1M451.1 911.6h0.2M451.1 913.2h0.2M451.2 914.8h0.1M451.3 916.4h0M451.1 918h0.8M451.1 919.6h0.2M450.8 921.2h0.5M451.1 922.8h0.2M451.1 924.4h0.2M451.2 926h0.1M451.3 927.6h0.2M451.3 929.2h0M451.3 930.8h0.1M451.3 932.4h0M451.3 934h0M451.3 935.6h0.1M451.3 937.2h1.1M451.3 938.8h0M451.2 940.4h0.1M451.2 942h0.1M451.3 943.6h0M451.1 945.2h0.8M451.3 946.8h0M451.3 948.4h0M451.1 950h0.2M451.3 951.6h0.1M451.2 953.2h0.1M451.3 954.8h0M450.9 956.4h0.7M450.9 958h0.5M451.3 959.6h0M451.2 961.2h0.2M451.2 962.8h0.2M451.3 964.4h0.1M451.1 966h0.3M450.9 967.6h0.4M451 969.2h0.3M450.9 970.8h0.9M451.3 972.4h0.2M451.3 974h0.3M450.8 975.6h0.9M451 977.2h1M451.1 978.8h1.5M451.2 980.4h1M450.9 982h1.3M451 983.6h1.1M450.4 985.2h1.6M450.5 986.8h2M450 988.4h2.6M449.9 990h2.7M449.7 991.6h3.8M450.2 993.2h2.1M450 994.8h2.3M449.7 996.4h4.3M449.9 998h3M449.3 999.6h3.5M449 1001.2h4.1M449.1 1002.8h3.8M449.8 1004.4h3.4M449.5 1006h3.5M449.4 1007.6h3.8M449.7 1009.2h3.4M448.9 1010.8h4.7M449.2 1012.4h3.8M448.1 1014h5.2M448.8 1015.6h4.3M448.9 1017.2h4.2M449.4 1018.8h4.3M449 1020.4h4.3M448.7 1022h5.1M448.8 1023.6h4.9M449 1025.2h4.9M449.1 1026.8h4M449.4 1028.4h3.6M448.9 1030h4.7M449.5 1031.6h3.7M449.4 1033.2h4M448.9 1034.8h4.8M448.2 1036.4h6M449.2 1038h3.8M449.4 1039.6h3.8M448.3 1041.2h5M448.5 1042.8h5.2M449.1 1044.4h4.6M448.8 1046h5.1M448.9 1047.6h4.5M449.1 1049.2h4M450.1 1050.8h2.4M449.5 1052.4h2.6M450.1 1054h2.2M450.1 1055.6h2.8M449.9 1057.2h3.1M448.2 1058.8h5.9M447 1060.4h10M446.9 1062h9.8M445.8 1063.6h10.4M446.5 1065.2h10.1M446.3 1066.8h10.3M446.1 1068.4h10M445.9 1070h11.8M446.4 1071.6h10.1M445.6 1073.2h11.2M446 1074.8h10.7M445.9 1076.4h10.7M445.7 1078h11.6M444.8 1079.6h13.7M445.2 1081.2h12.8M444.2 1082.8h13.8M444.5 1084.4h14.2M444.1 1086h14.1M443.8 1087.6h14.9M442.7 1089.2h17M444 1090.8h14.6M444.2 1092.4h14.5M443.7 1094h15M444.1 1095.6h14.5M443.4 1097.2h16.1M443 1098.8h17.2M443.3 1100.4h17.2M443.2 1102h15.9M442 1103.6h17M442.6 1105.2h16.6M442.6 1106.8h17.2M442.8 1108.4h16.6M443 1110h16.7M442.5 1111.6h16.9M443 1113.2h16.2M443 1114.8h16.7M443.7 1116.4h15.4M443.6 1118h15.3M443.4 1119.6h14.8M444 1121.2h14.6M442.6 1122.8h16.5M443.6 1124.4h15M444 1126h14.9M444 1127.6h15.2M443.2 1129.2h16.4M442.7 1130.8h16.3M443.8 1132.4h15.3M443.8 1134h14.8M444 1135.6h14.4M444.3 1137.2h14M444.4 1138.8h14.3M443.8 1140.4h14.2M444.4 1142h13.6M443.3 1143.6h14.6M444.7 1145.2h14.6M444.8 1146.8h13.4M444.6 1148.4h13.2M444.3 1150h13.3M444.2 1151.6h13.7M445.1 1153.2h12.4M444.6 1154.8h13.7M444.7 1156.4h14.1M445 1158h13M445.1 1159.6h12.8M444.9 1161.2h12.5M445.1 1162.8h13.1M444.8 1164.4h13.7M444.9 1166h12.3M445 1167.6h12.3M444.8 1169.2h12.4M445.6 1170.8h11.3M445.7 1172.4h10.9M446.2 1174h10.3M445.9 1175.6h10.5M446.2 1177.2h9.9M446.9 1178.8h9M447 1180.4h8.5M447.1 1182h8.5M447.4 1183.6h8M447.2 1185.2h9.2M447.7 1186.8h7.2M447.4 1188.4h7.4M447.8 1190h7.4M447.6 1191.6h7.3M447.4 1193.2h7M447.8 1194.8h6.6M447.9 1196.4h6.3M447.2 1198h7.2M447.6 1199.6h6.6M449.3 1201.2h4.7M449 1202.8h4.2M449.8 1204.4h3M449.8 1206h3M450.2 1207.6h2.6M450.2 1209.2h2.6M449.7 1210.8h2.6M450.4 1212.4h2.1M451 1214h0.6M451 1215.6h1.1M451 1217.2h0.9M451 1218.8h0.6M451.3 1220.4h0.1M451.3 1222h0.2M451.2 1223.6h0.2M451.1 1225.2h0.2M451.1 1226.8h0.2M451.3 1228.4h0M451.3 1230h0.1M451.3 1231.6h0.1M451.3 1233.2h0M451.3 1234.8h0.1M451.3 1236.4h0.2M449.2 1238.5h4.1M448.6 1241.5h5.5M448.6 1244.5h5.5" fill="none" stroke="#FF7F7F" stroke-width="10.9" stroke-linecap="round"/>
<path d="M540.8 939.3h0M540.8 940.9h0.2M539.8 942.5h1M540.8 944.1h0M540.8 945.7h0.1M540.8 947.3h0.3M540.8 948.9h0.1M540.8 950.5h0M540.7 952.1h0.1M540.8 953.7h0M540.8 955.3h0.1M539.7 956.9h1.1M540.8 958.5h0.2M540.8 960.1h0.4M540.8 961.7h0M540.8 963.3h0M540.8 964.9h0.3M540.8 966.5h0.1M540.7 968.1h0.5M540.7 969.7h0.1M540.7 971.3h0.2M540.7 972.9h0.2M540.8 974.5h0.2M540.6 976.1h0.7M540.8 977.7h0.5M540.1 979.3h1.1M540.8 980.9h0.3M540.4 982.5h0.9M540.6 984.1h0.9M540.4 985.7h1.1M539.5 987.3h1.7M540.3 988.9h1.1M540.8 990.5h0.7M540.6 992.1h0.3M540.3 993.7h2.1M539.4 995.3h1.5M539.1 996.9h2M539.9 998.5h1.3M540.3 1000.1h1.1M540 1001.7h1.4M540.5 1003.3h0.4M540.1 1004.9h1.7M540.4 1006.5h1.2M540.5 1008.1h2.1M540.2 1009.7h1.7M540.2 1011.3h2.5M540 1012.9h2.6M539.7 1014.5h1.8M538.7 1016.1h3.8M539.3 1017.7h2.5M540 1019.3h2.1M539.4 1020.9h2.2M539.7 1022.5h2M539.4 1024.1h2.3M539.3 1025.7h2.7M539.4 1027.3h2.4M539.4 1028.9h3.1M539.6 1030.5h2.6M539.7 1032.1h3M539 1033.7h3.3M539.6 1035.3h3M538.8 1036.9h3.4M539.4 1038.5h1.9M539.4 1040.1h1.8M539.7 1041.7h2.5M539.1 1043.3h3.1M539.5 1044.9h2.5M539.1 1046.5h3.5M538.3 1048.1h4.6M538.2 1049.7h4.2M539.6 1051.3h2.9M539.5 1052.9h2M538.8 1054.5h2.9M540.2 1056.1h1.5M539.1 1057.7h2.3M539.4 1059.3h1.9M540.1 1060.9h2.1M539.4 1062.5h2.2M538.4 1064.1h3.7M539.1 1065.7h2.9M538.1 1067.3h4.5M539.1 1068.9h3.6M538.6 1070.5h5.1M539 1072.1h4.2M537.8 1073.7h5.5M538.4 1075.3h4.8M538.6 1076.9h4.6M538.7 1078.5h4.6M538.5 1080.1h4.2M537.6 1081.7h5.1M538.2 1083.3h4.8M538 1084.9h5M538.4 1086.5h4.7M538.1 1088.1h5M538.2 1089.7h6.1M538.1 1091.3h5.5M537.9 1092.9h5.7M536.6 1094.5h6.8M537 1096.1h6.6M536.7 1097.7h8.1M537.7 1099.3h7.1M537.5 1100.9h6.7M537.4 1102.5h7.4M537.1 1104.1h8.3M536.5 1105.7h9.1M536 1107.3h9.2M535.7 1108.9h10.1M535.7 1110.5h10.8M535.1 1112.1h10.7M535.5 1113.7h10.6M534.8 1115.3h11.7M535.1 1116.9h11.8M534.8 1118.5h13.3M534.8 1120.1h12.5M534.3 1121.7h13.2M534.2 1123.3h13M534.5 1124.9h13.4M534.3 1126.5h13.4M534.2 1128.1h14.5M534.1 1129.7h13.6M533.5 1131.3h15M533.4 1132.9h15.2M532.8 1134.5h15.9M532.4 1136.1h16.6M532.6 1137.7h16.2M532.6 1139.3h16.5M532.1 1140.9h17.7M532.1 1142.5h17.4M532 1144.1h17.1M531.5 1145.7h17.5M531.6 1147.3h18.2M532.6 1148.9h16.5M532.9 1150.5h17.1M532.8 1152.1h16M532.7 1153.7h15.8M533 1155.3h15.8M532.4 1156.9h16.5M532.7 1158.5h16.3M533.4 1160.1h15.3M533.5 1161.7h14.9M533.5 1163.3h14.7M533.1 1164.9h14.8M533.2 1166.5h15.4M534.4 1168.1h13.4M534.1 1169.7h14.3M534.5 1171.3h12.7M535.2 1172.9h11.4M534.4 1174.5h12.1M535.5 1176.1h10.9M534.5 1177.7h12M535.3 1179.3h11.4M536.1 1180.9h9.5M536.3 1182.5h9.3M536.4 1184.1h9.1M536.8 1185.7h8.5M536.5 1187.3h8.9M537.5 1188.9h7.2M537.4 1190.5h7.1M537.8 1192.1h6.4M537.8 1193.7h6.8M536.6 1195.3h8.6M537.2 1196.9h7.2M538 1198.5h6.6M537.3 1200.1h6.8M536.9 1201.7h6.4M538.1 1203.3h5.8M538.5 1204.9h5.5M538.2 1206.5h5.4M538.9 1208.1h4.4M538.2 1209.7h4.3M539.2 1211.3h3.7M539.4 1212.9h4.5M539.3 1214.5h2.9M538.8 1216.1h3.6M538.4 1217.7h4.2M539.8 1219.3h2.5M539 1220.9h3.2M539.9 1222.5h2M539.9 1224.1h1.6M540.1 1225.7h1.5M540.2 1227.3h1.1M539.6 1228.9h1.5M540.3 1230.5h0.5M540.7 1232.1h0.3M540.4 1233.7h1M539.8 1235.3h2.4M537.2 1238.5h7.1M536 1241.5h9.5M536 1244.5h9.5M540.9 900.5h0M540.9 907h0M540.9 912.7h0M540.9 924.8h0M540.9 928.2h0" fill="none" stroke="#559CFC" stroke-width="10.9" stroke-linecap="round"/>
<path d="M585.2 873.5h0M585.2 875.1h0.1M585.1 876.7h0.1M585.1 878.3h0.1M585 879.9h0.2M585.1 881.5h0.1M585.1 883.1h0.1M585.2 884.7h0.5M585.2 886.3h0.5M585.2 887.9h0.2M585.2 889.5h0M585.2 891.1h0.1M585.1 892.7h0.1M585.2 894.3h0.2M585 895.9h0.2M584.6 897.5h0.6M584.3 899.1h0.9M585.2 900.7h0M585.2 902.3h0M585.2 903.9h0.1M585.1 905.5h0.1M585.1 907.1h0.1M585 908.7h0.2M585.2 910.3h0.1M585.2 911.9h0.1M585.2 913.5h0M584.7 915.1h1.3M585.2 916.7h0.2M585.2 918.3h0.2M585.1 919.9h0.1M585.2 921.5h0M585.2 923.1h0.5M585.2 924.7h0.1M585.1 926.3h0.1M585.1 927.9h0.1M585.2 929.5h0M584.2 931.1h1M585.2 932.7h0.2M585.2 934.3h0M585.2 935.9h0.1M585.2 937.5h0.2M584.5 939.1h0.7M585.1 940.7h0.1M585.2 942.3h0M585.2 943.9h0.1M585 945.5h0.3M584.4 947.1h0.8M585.2 948.7h0.2M585.2 950.3h0.2M585 951.9h0.2M584.9 953.5h0.8M585 955.1h0.2M585.2 956.7h0.2M585.2 958.3h0.2M585 959.9h0.2M585.2 961.5h0M585.2 963.1h0M585.2 964.7h0.1M585 966.3h0.2M585.2 967.9h0.2M585.2 969.5h0.1M585.2 971.1h0M585.1 972.7h0.1M585.2 974.3h0.1M585.2 975.9h0M584.9 977.5h0.3M585.2 979.1h0.2M585.2 980.7h0.1M585.2 982.3h0.2M585.1 983.9h0.1M585.2 985.5h0.1M585.2 987.1h0M585.1 988.7h0.4M585.2 990.3h0.1M585.1 991.9h0.1M585 993.5h0.2M584.8 995.1h0.4M585.2 996.7h0.1M585.1 998.3h1.2M584.5 999.9h1.5M584.9 1001.5h1M584.8 1003.1h1.1M584.4 1004.7h2.6M584.1 1006.3h2.2M584 1007.9h2M584.2 1009.5h2.3M584 1011.1h2.7M583.6 1012.7h3.1M583.6 1014.3h2.8M583.6 1015.9h2.9M584.2 1017.5h3.2M582.6 1019.1h5.2M584 1020.7h2.8M583.6 1022.3h3.6M583.6 1023.9h3.1M583.9 1025.5h3.3M583.5 1027.1h3.1M582.5 1028.7h4.7M583.2 1030.3h3.8M583.6 1031.9h3.4M583.4 1033.5h4.1M583.3 1035.1h3.8M583.3 1036.7h3.9M581.9 1038.3h5.4M583.4 1039.9h4.6M582.7 1041.5h4.2M583 1043.1h4.2M583 1044.7h4.5M582 1046.3h5.1M583 1047.9h4.6M582.7 1049.5h4.6M582.5 1051.1h6M582.8 1052.7h5M582.5 1054.3h5.4M582.7 1055.9h5.2M582.3 1057.5h5.3M582.1 1059.1h6.1M581.3 1060.7h6.2M582.7 1062.3h4.9M582.3 1063.9h6.7M581.8 1065.5h6.9M582.2 1067.1h6.6M581.7 1068.7h6.8M581.8 1070.3h7M581.2 1071.9h7.6M581 1073.5h8.2M580.8 1075.1h8.9M580.8 1076.7h8.5M580.6 1078.3h9M580.6 1079.9h8.8M580.8 1081.5h8.8M580.8 1083.1h8.9M580.3 1084.7h9.6M579.3 1086.3h10.3M580.5 1087.9h9.3M580.2 1089.5h11M580.3 1091.1h10.3M580.3 1092.7h9.9M579.6 1094.3h11.4M579.1 1095.9h11.7M579.3 1097.5h11.7M579.5 1099.1h12M578.9 1100.7h12.4M578.8 1102.3h13.6M579 1103.9h12.3M578.3 1105.5h14.6M578.2 1107.1h14M578.5 1108.7h13.4M578.8 1110.3h13.9M577.3 1111.9h15.2M578.6 1113.5h13.3M578.7 1115.1h13.7M578 1116.7h13.9M577.8 1118.3h14.3M577.8 1119.9h15.3M578 1121.5h14.5M577.2 1123.1h15.7M577.3 1124.7h16.2M576.9 1126.3h16.2M577 1127.9h16.4M576.6 1129.5h16.8M577.4 1131.1h16.3M576.8 1132.7h17.4M576.9 1134.3h16.5M576.9 1135.9h16.3M577.3 1137.5h17.3M577.3 1139.1h16.4M576.6 1140.7h16.7M576.3 1142.3h16.7M577 1143.9h16.1M577.2 1145.5h16.9M575.9 1147.1h17.1M577.1 1148.7h15.8M578.2 1150.3h15.7M577.7 1151.9h14.3M577 1153.5h15.6M578.1 1155.1h14.2M577.6 1156.7h15.1M576.5 1158.3h16.3M577.6 1159.9h15.3M577.6 1161.5h14.8M577.3 1163.1h15.2M577.6 1164.7h15M577.6 1166.3h15.1M577.6 1167.9h15.7M578.1 1169.5h14.2M577.8 1171.1h14.7M578.5 1172.7h14.2M577.9 1174.3h14.1M578.2 1175.9h13.7M578.4 1177.5h13.7M579.1 1179.1h12.1M579.1 1180.7h12.3M579.1 1182.3h11.9M579.7 1183.9h12.4M579.4 1185.5h11M580.4 1187.1h10.1M580.7 1188.7h9.3M580.8 1190.3h8.7M580.5 1191.9h9.5M581.1 1193.5h9.4M580.3 1195.1h9.4M581.4 1196.7h7.5M581.5 1198.3h7.2M581.6 1199.9h7.1M581.3 1201.5h7.2M582.5 1203.1h5.3M582.4 1204.7h5.6M582.1 1206.3h5.6M583.1 1207.9h3.6M583.4 1209.5h4.6M583.9 1211.1h2.8M583.9 1212.7h2.8M584.6 1214.3h1.4M584.5 1215.9h1.2M584.3 1217.5h1.7M584.9 1219.1h0.7M585.1 1220.7h0.4M585.2 1222.3h0.5M584.8 1223.9h0.7M585.2 1225.5h0.2M585.2 1227.1h0.1M585.2 1228.7h0.1M585.2 1230.3h0M584.2 1231.9h1M585.1 1233.5h0.1M585.2 1235.1h0.2M581.5 1238.5h7.5M580.2 1241.5h10M580.2 1244.5h10" fill="none" stroke="#FF7F7F" stroke-width="10.9" stroke-linecap="round"/>
<path d="M674.4 947.8h0M674.3 949.4h0.3M674.2 951h0.2M674.4 952.6h0M674.4 954.2h0.1M674.4 955.8h0.3M674.4 957.4h0.1M674.4 959h0.1M674.4 960.6h0.1M674.3 962.2h0.1M674.3 963.8h0.1M674.2 965.4h0.2M674.2 967h0.2M674.4 968.6h0.2M674.4 970.2h0M674.4 971.8h0M674.2 973.4h0.2M674.4 975h0M674.4 976.6h0.1M674.4 978.2h0M674.3 979.8h0.1M674.4 981.4h0.1M674.1 983h0.3M674.4 984.6h0M674.3 986.2h0.1M674.1 987.8h0.3M674.2 989.4h0.2M674.4 991h0.8M674.4 992.6h0.4M674.3 994.2h0.1M674.4 995.8h0.2M674.2 997.4h0.2M674.4 999h0.2M674.4 1000.6h0.1M674.2 1002.2h0.2M674.3 1003.8h0.4M674.4 1005.4h0.1M674.4 1007h0.2M674.2 1008.6h0.2M673.7 1010.2h0.7M674.4 1011.8h0.2M674.4 1013.4h0.1M674.4 1015h0.6M674.4 1016.6h0M674.4 1018.2h0M674.4 1019.8h0.9M674.2 1021.4h0.2M674.4 1023h0M674.4 1024.6h0.3M674.3 1026.2h0.1M674.3 1027.8h0.1M674.4 1029.4h0M674.3 1031h0.4M673.9 1032.6h0.5M674.3 1034.2h0.1M674 1035.8h0.7M674.4 1037.4h0.2M674.4 1039h1.1M673.5 1040.6h0.9M673.9 1042.2h0.5M674.4 1043.8h0.6M673.7 1045.4h1.3M674.1 1047h1.1M673.7 1048.6h1.8M673.2 1050.2h2.2M673.2 1051.8h2.3M673.4 1053.4h1.7M673.5 1055h1.6M672.9 1056.6h1.7M673.8 1058.2h0.6M674.1 1059.8h0.4M674.2 1061.4h0.7M674 1063h0.8M673.9 1064.6h1M674.4 1066.2h0.3M674.2 1067.8h0.6M673.4 1069.4h1.1M674.3 1071h0.9M674.3 1072.6h0.5M673.7 1074.2h0.9M673 1075.8h1.8M673.6 1077.4h2.2M673.3 1079h1.9M672.7 1080.6h2.7M672.4 1082.2h3.9M671.4 1083.8h6.1M672.2 1085.4h5.7M671.5 1087h5.5M670.8 1088.6h6.5M670.7 1090.2h7.4M669.5 1091.8h9.8M669.3 1093.4h10.8M669.1 1095h10.7M669.6 1096.6h9.2M670 1098.2h10.1M669.7 1099.8h9.8M669.9 1101.4h8.8M668.8 1103h10.1M669.5 1104.6h9.5M669.4 1106.2h9.6M669.6 1107.8h9.6M669 1109.4h10.4M669.3 1111h9.9M668.9 1112.6h11.7M669.2 1114.2h10.2M670 1115.8h9.9M670.1 1117.4h8.4M670.7 1119h7.4M670.5 1120.6h8M670.1 1122.2h8.5M669.7 1123.8h9.2M669.3 1125.4h10M669.4 1127h11.3M668.7 1128.6h11.6M668.1 1130.2h12.4M668.3 1131.8h12.1M668 1133.4h12.5M667.3 1135h14M667.2 1136.6h14M667.6 1138.2h14.1M667.4 1139.8h13.8M666.5 1141.4h14.8M667.4 1143h14.4M666.9 1144.6h14.6M665.9 1146.2h15.9M667 1147.8h14.4M666.9 1149.4h15.3M666.9 1151h16M666.8 1152.6h14.7M667 1154.2h14.5M666.1 1155.8h16.3M667 1157.4h15.1M666.6 1159h15M666.5 1160.6h15.2M667 1162.2h15.4M666.5 1163.8h16.4M666 1165.4h16.7M666.1 1167h16.6M666.2 1168.6h16.4M665.9 1170.2h16.8M666.3 1171.8h16.1M666.7 1173.4h15.4M666.4 1175h16.6M666.7 1176.6h15M667.2 1178.2h15M666.8 1179.8h14.9M667.1 1181.4h14.3M667.4 1183h14.1M667.5 1184.6h14.1M667 1186.2h14.4M667.1 1187.8h15.7M667.4 1189.4h13.6M667.8 1191h13.5M668.7 1192.6h11.3M669 1194.2h10.5M670 1195.8h9M670.8 1197.4h7.4M671.7 1199h5.9M671.5 1200.6h5.7M672.1 1202.2h4.1M672.9 1203.8h3.1M672.3 1205.4h3.6M673.4 1207h3M674.1 1208.6h1.7M674.2 1210.2h0.4M673.6 1211.8h1M674.3 1213.4h0.9M673.5 1215h1.6M673.5 1216.6h1.3M673.6 1218.2h1.1M673.2 1219.8h2.1M674.1 1221.4h0.9M674.2 1223h0.8M674.3 1224.6h1.4M674.4 1226.2h0.6M674.3 1227.8h0.5M674.3 1229.4h0.1M674.4 1231h0.1M674.2 1232.6h0.5M674.4 1234.2h0.1M674.4 1235.8h0.8M670.8 1238.5h7.1M669.6 1241.5h9.5M669.6 1244.5h9.5M674.4 924.5h0M674.4 929.5h0" fill="none" stroke="#559CFC" stroke-width="10.9" stroke-linecap="round"/>
<path d="M718.8 990.5h0M718.8 992.1h0M718.6 993.7h0.2M718.6 995.3h0.2M718.8 996.9h0M718.7 998.5h0.1M718.4 1000.1h0.4M718.8 1001.7h0.1M718.8 1003.3h0.1M717.9 1004.9h1.1M718.8 1006.5h0.1M718.8 1008.1h0M718.8 1009.7h0M718.7 1011.3h0.1M718.6 1012.9h0.2M718.6 1014.5h0.2M718.7 1016.1h0.1M718.8 1017.7h0M718.6 1019.3h0.2M718.8 1020.9h0.2M718.7 1022.5h0.2M718 1024.1h1.2M718.3 1025.7h0.5M718.8 1027.3h0.2M718.8 1028.9h0.6M717.6 1030.5h1.8M718.2 1032.1h1M718.6 1033.7h0.8M718.7 1035.3h0.6M717.9 1036.9h2.5M717.9 1038.5h1.5M717.8 1040.1h1.9M717.6 1041.7h2.1M718.3 1043.3h1M718.1 1044.9h1.7M718.3 1046.5h1.2M718.3 1048.1h0.8M718.6 1049.7h0.5M717.3 1051.3h2M718 1052.9h1.1M718.4 1054.5h1.6M717.7 1056.1h2.2M717.4 1057.7h2.9M717.1 1059.3h2.7M717.5 1060.9h2.2M717.5 1062.5h2.4M717.8 1064.1h2M717.5 1065.7h2.9M718.1 1067.3h1.5M718.4 1068.9h1.4M717.4 1070.5h2.5M718.1 1072.1h1.5M718 1073.7h1.9M717.7 1075.3h2.2M716.8 1076.9h3M717.4 1078.5h2.4M717.7 1080.1h2.3M717.1 1081.7h3.5M717.1 1083.3h4.3M716.7 1084.9h4.1M716.3 1086.5h5.1M716.4 1088.1h5.4M715.7 1089.7h7M715.4 1091.3h6.2M715.1 1092.9h7.5M715.3 1094.5h7.2M714.4 1096.1h8.3M713.7 1097.7h10.2M713.5 1099.3h10.2M713.1 1100.9h12.6M712.6 1102.5h12.2M712.5 1104.1h13M712.3 1105.7h13.1M711.7 1107.3h14.4M711.5 1108.9h15.2M711 1110.5h16M710.7 1112.1h17M710.6 1113.7h16.6M709.5 1115.3h17.3M710.4 1116.9h16.6M710.9 1118.5h15.6M711 1120.1h15.3M711.7 1121.7h14.3M712.3 1123.3h13.1M712.6 1124.9h12.5M712.9 1126.5h11.8M713.4 1128.1h10.4M713.6 1129.7h10M713.6 1131.3h10.8M713.2 1132.9h11.2M712.7 1134.5h11.9M712.8 1136.1h13.1M712.5 1137.7h12.8M711.5 1139.3h13.9M711.9 1140.9h13.7M711.1 1142.5h14.8M711.8 1144.1h15.1M711.5 1145.7h15M711.4 1147.3h15.1M711.6 1148.9h14.4M711.6 1150.5h15.8M711.2 1152.1h15.3M710.5 1153.7h15.8M711.5 1155.3h14.7M711.5 1156.9h14.4M711.2 1158.5h14.5M711.3 1160.1h14.8M711.5 1161.7h14.1M711.9 1163.3h14.2M711.9 1164.9h14.3M711.9 1166.5h14M711.4 1168.1h14.9M711.7 1169.7h13.9M712 1171.3h13.4M712 1172.9h13.5M712.1 1174.5h13.4M712.9 1176.1h11.8M712.6 1177.7h12.6M712.3 1179.3h12.5M711.5 1180.9h13.7M712.5 1182.5h12.6M711.9 1184.1h13.8M712.3 1185.7h13.1M712.2 1187.3h13.1M712.2 1188.9h13.7M712.4 1190.5h12.6M713.5 1192.1h11.3M714.2 1193.7h10.3M714.5 1195.3h9M715.1 1196.9h7.3M714.8 1198.5h7.5M714.8 1200.1h7.2M715.6 1201.7h6.6M715.2 1203.3h6.9M715.8 1204.9h6.3M715.6 1206.5h6.6M715.6 1208.1h6.4M716.2 1209.7h5.3M714.9 1211.3h6.7M716.4 1212.9h5.3M715 1214.5h6.9M716.5 1216.1h4.5M716.8 1217.7h4.5M717.1 1219.3h3.5M717.5 1220.9h3.2M717.6 1222.5h3.3M718.1 1224.1h1.3M718.4 1225.7h1.3M717.3 1227.3h1.6M718.7 1228.9h0.1M718.8 1230.5h0.3M718.8 1232.1h0.1M718.8 1233.7h0.1M718.8 1235.3h0M714.9 1238.5h7.9M713.5 1241.5h10.5M713.5 1244.5h10.5M719 898h0M719 908.5h0M719 916h0M719 924h0M719 942.2h0M719 950.4h0M719 962h0" fill="none" stroke="#FF7F7F" stroke-width="10.9" stroke-linecap="round"/>
<path d="M808.2 974.5h0M808.2 998.2h0M806.6 1059.4h0M810.6 1059.4h0M808.3 1071.2h0M808.3 1084.4h0M808.6 1097.5h0M803.2 1100.5h0M813.5 1103h0M808.3 1104h0M808.3 1110h0M798.3 1119.5h0M803 1117h0M808 1116h0M813 1117h0M817.8 1119.5h0M803 1123h0M813 1123h0M808 1123h0M808.3 1130h0M802.5 1138h0M808 1136h0M813.5 1137h0M813.5 1141h0M798.5 1144h0M803 1144h0M808 1143h0M813.5 1144h0M817 1146h0M802.7 1157.6h0M808 1156h0M813 1156h0M814.8 1160h0M798.3 1169.7h0M803 1168h0M808 1166h0M813 1166h0M817.8 1165h0M815.2 1174h0M804 1174h0M809 1172h0M805.5 1179h0M811.2 1178.5h0M808.2 1191h0M809.5 1197h0M803.2 1204.9h0M808 1203h0M813.3 1206h0M806.7 1215.7h0M810.4 1218.3h0M808.5 1211h0M803 1244.5h0M808 1244.5h0M813.3 1244.5h0" fill="none" stroke="#559CFC" stroke-width="10.9" stroke-linecap="round"/>
<path d="M852.7 1016.9h0M852.5 1090.4h0M852.5 1101.9h0M851.5 1117.5h0M855 1119h0M855.5 1125h0M850.6 1124h0M850.6 1130h0M855.5 1130h0M850.6 1133h0M855 1134h0M843.1 1147h0M846 1152.5h0M848 1145h0M850 1145h0M851 1151h0M862.7 1148.5h0M859 1143h0M854.5 1159h0M854.5 1164h0M843.1 1173h0M848 1171h0M853 1170.5h0M858.6 1172h0M846.6 1180.5h0M852 1180h0M857 1181.5h0M862.7 1181h0M847.7 1187h0M847.7 1193h0M848.5 1199h0M856.6 1187h0M856.6 1193h0M856.6 1199h0M852 1190h0M852 1196h0M846.6 1207.6h0M852.5 1206h0M852.5 1212h0M855 1215h0M859.2 1212.8h0M851.2 1222h0M854.3 1224h0M851.5 1228h0M854 1230h0M852.5 1236h0M850.5 1245h0M855.7 1245h0" fill="none" stroke="#FF7F7F" stroke-width="10.9" stroke-linecap="round"/>
<g fill="#D2D2D2"><rect x="138.5" y="1023.4" width="2.6" height="117"/><rect x="132.2" y="1022.1" width="15.2" height="2.5"/><rect x="132.2" y="1139.2" width="15.2" height="2.5"/><rect x="125" y="1090.8" width="29.6" height="4.1"/><rect x="183.1" y="1081.9" width="2.6" height="79.5"/><rect x="176.8" y="1080.7" width="15.2" height="2.5"/><rect x="176.8" y="1160.2" width="15.2" height="2.5"/><rect x="169.6" y="1122.5" width="29.6" height="4.1"/><rect x="272" y="1049.5" width="2.6" height="101.8"/><rect x="265.7" y="1048.2" width="15.2" height="2.5"/><rect x="265.7" y="1150" width="15.2" height="2.5"/><rect x="258.5" y="1104.5" width="29.6" height="4.1"/><rect x="316.9" y="1049.5" width="2.6" height="101.8"/><rect x="310.6" y="1048.2" width="15.2" height="2.5"/><rect x="310.6" y="1150" width="15.2" height="2.5"/><rect x="303.4" y="1104.5" width="29.6" height="4.1"/><rect x="405.9" y="1071.9" width="2.6" height="92"/><rect x="399.6" y="1070.7" width="15.2" height="2.5"/><rect x="399.6" y="1162.7" width="15.2" height="2.5"/><rect x="392.4" y="1123.5" width="29.6" height="4.1"/><rect x="450" y="1057.6" width="2.6" height="99.1"/><rect x="443.7" y="1056.3" width="15.2" height="2.5"/><rect x="443.7" y="1155.5" width="15.2" height="2.5"/><rect x="436.5" y="1108.7" width="29.6" height="4.1"/><rect x="539.5" y="1095.4" width="2.6" height="77.7"/><rect x="533.2" y="1094.2" width="15.2" height="2.5"/><rect x="533.2" y="1171.8" width="15.2" height="2.5"/><rect x="526" y="1137.4" width="29.6" height="4.1"/><rect x="583.9" y="1080.1" width="2.6" height="88.2"/><rect x="577.6" y="1078.8" width="15.2" height="2.5"/><rect x="577.6" y="1167" width="15.2" height="2.5"/><rect x="570.4" y="1127.8" width="29.6" height="4.1"/><rect x="673.1" y="1112" width="2.6" height="70.8"/><rect x="666.8" y="1110.8" width="15.2" height="2.5"/><rect x="666.8" y="1181.5" width="15.2" height="2.5"/><rect x="659.6" y="1150.7" width="29.6" height="4.1"/><rect x="717.5" y="1103" width="2.6" height="79.8"/><rect x="711.2" y="1101.8" width="15.2" height="2.5"/><rect x="711.2" y="1181.5" width="15.2" height="2.5"/><rect x="704" y="1143.9" width="29.6" height="4.1"/><rect x="806.9" y="1119" width="2.6" height="60.2"/><rect x="800.6" y="1117.8" width="15.2" height="2.5"/><rect x="800.6" y="1178" width="15.2" height="2.5"/><rect x="793.4" y="1148.2" width="29.6" height="4.1"/><rect x="851.3" y="1141.6" width="2.6" height="61.1"/><rect x="845" y="1140.3" width="15.2" height="2.5"/><rect x="845" y="1201.5" width="15.2" height="2.5"/><rect x="837.8" y="1174.7" width="29.6" height="4.1"/></g>
<g style="will-change:transform">
<g font-size="40" text-anchor="end">
<text x="83.6" y="740.4">3</text>
<text x="83.6" y="913.2">2</text>
<text x="83.6" y="1258.8">0</text>
</g>
<path d="M71.3 1058H76.6V1085.5H71.3V1067.2C69.3 1068.6 66.8 1069.4 64 1069.6V1064.9C67 1063.9 69.8 1061.3 71.3 1058Z" fill="#000"/>
<g font-size="39.3" text-anchor="middle">
<text x="156.5" y="1308.3">35-44</text>
<text x="295.8" y="1308.3">45-54</text>
<text x="435.5" y="1308.3">55-64</text>
<text x="568.5" y="1308.3">65-74</text>
<text x="702.2" y="1308.3">75-84</text>
<text x="835.4" y="1308.3">85+</text>
</g>
<text x="497.9" y="1374.9" font-size="43" text-anchor="middle">Age (years)</text>
<text transform="translate(36.5 983.2) rotate(-90)" x="0" y="0" font-size="43.2" text-anchor="middle">ETP inhibition by TM (normalized)</text>
</g>
</svg></body></html>
